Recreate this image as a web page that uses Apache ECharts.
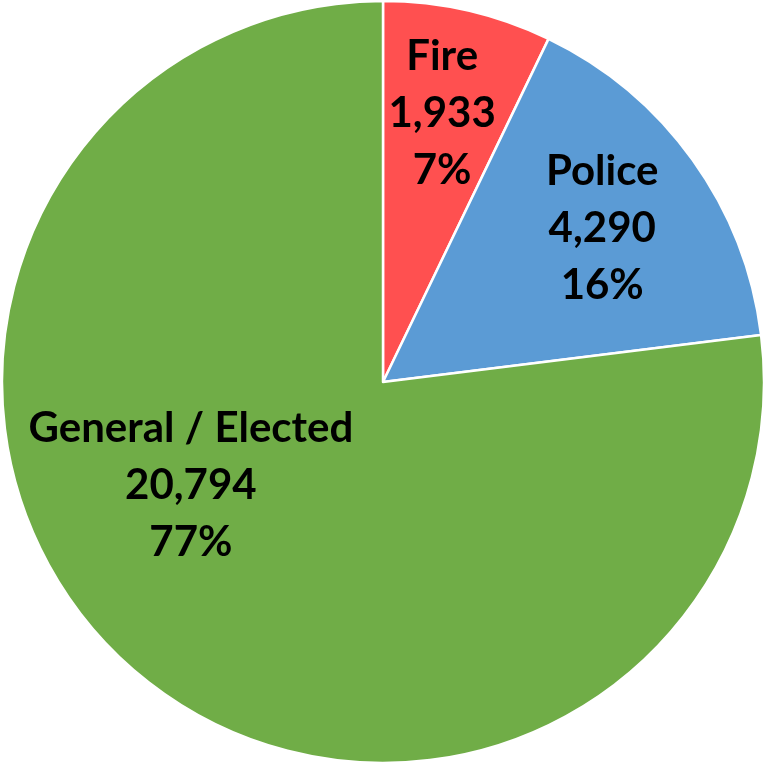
<!DOCTYPE html>
<html>
<head>
<meta charset="utf-8">
<script src="https://cdn.jsdelivr.net/npm/echarts@6/dist/echarts.min.js"></script>
<style>html,body{margin:0;padding:0;background:#fff}#c{width:765px;height:764px}</style>
</head>
<body>
<div id="c"></div>
<script>
const categories = ["Fire", "Police", "General / Elected"];
const values = [1933, 4290, 20794];
const colors = ["#FF5050", "#5B9BD5", "#70AD47"];
const labelOffsets = [[16, -80], [62, -41], [-64, -42]];

const chart = echarts.init(document.getElementById('c'));
const total = values.reduce((a, b) => a + b, 0);
chart.setOption({
  animation: false,
  series: [{
    type: 'pie',
    center: [383, 382],
    radius: 381,
    startAngle: 90,
    clockwise: true,
    itemStyle: { borderColor: '#fff', borderWidth: 2.5 },
    label: {
      show: true,
      position: 'inside',
      fontFamily: 'Lato',
      fontWeight: 'bold',
      fontSize: 42,
      lineHeight: 57,
      color: '#000',
      align: 'center',
      formatter: p => p.name + '\n' + p.value.toLocaleString('en-US') + '\n' + Math.round(p.value / total * 100) + '%'
    },
    labelLine: { show: false },
    data: categories.map((n, i) => ({
      name: n,
      value: values[i],
      itemStyle: { color: colors[i] },
      label: { offset: labelOffsets[i] }
    }))
  }]
});
</script>
</body>
</html>
